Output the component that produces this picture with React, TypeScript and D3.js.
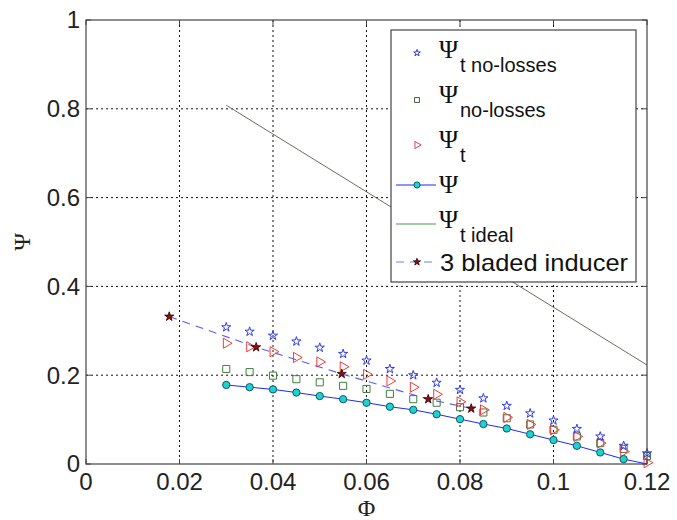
import React from "react";
import * as d3 from "d3";

const phi = [0.03, 0.035, 0.04, 0.045, 0.05, 0.055, 0.06, 0.065, 0.07, 0.075, 0.08, 0.085, 0.09, 0.095, 0.1, 0.105, 0.11, 0.115, 0.12];
const psiTNoLosses = [0.308, 0.298, 0.289, 0.276, 0.262, 0.248, 0.233, 0.214, 0.2, 0.183, 0.167, 0.148, 0.131, 0.114, 0.098, 0.079, 0.062, 0.041, 0.024];
const psiNoLosses = [0.214, 0.207, 0.199, 0.191, 0.184, 0.176, 0.169, 0.158, 0.146, 0.138, 0.128, 0.116, 0.103, 0.089, 0.077, 0.062, 0.047, 0.034, 0.018];
const psiT = [0.272, 0.264, 0.253, 0.24, 0.23, 0.219, 0.202, 0.187, 0.173, 0.157, 0.14, 0.122, 0.105, 0.089, 0.077, 0.062, 0.047, 0.028, 0.003];
const psiPhi = [0.03, 0.035, 0.04, 0.045, 0.05, 0.055, 0.06, 0.065, 0.07, 0.075, 0.08, 0.085, 0.09, 0.095, 0.1, 0.105, 0.11, 0.115];
const psi = [0.178, 0.173, 0.168, 0.161, 0.153, 0.146, 0.138, 0.129, 0.122, 0.112, 0.101, 0.09, 0.08, 0.067, 0.054, 0.041, 0.026, 0.011];
const psiLineEnd = [0.12, 0.0];
const idealPhi = [0.03, 0.12];
const idealPsi = [0.808, 0.223];
const bladedPhi = [0.0178, 0.0364, 0.0547, 0.0732, 0.0824];
const bladedPsi = [0.332, 0.263, 0.203, 0.146, 0.125];

const xTicks = [0, 0.02, 0.04, 0.06, 0.08, 0.1, 0.12];
const xTickLabels = ["0", "0.02", "0.04", "0.06", "0.08", "0.1", "0.12"];
const yTicks = [0, 0.2, 0.4, 0.6, 0.8, 1];
const yTickLabels = ["0", "0.2", "0.4", "0.6", "0.8", "1"];

const L = 86, R = 647, T = 20, B = 464;
const SANS = "'Liberation Sans', Arial, sans-serif";
const SERIF = "'Liberation Serif', 'Times New Roman', serif";

export default function App() {
  const x = d3.scaleLinear().domain([0, 0.12]).range([L, R]);
  const y = d3.scaleLinear().domain([0, 1]).range([B, T]);
  const line = d3.line<[number, number]>().x(d => x(d[0])).y(d => y(d[1]));

  const star = d3.symbol().type(d3.symbolStar).size(26)()!;
  const bigStar = d3.symbol().type(d3.symbolStar).size(26)()!;
  const square = d3.symbol().type(d3.symbolSquare).size(50)()!;
  const tri = d3.symbol().type(d3.symbolTriangle).size(44)()!;
  const circ = d3.symbol().type(d3.symbolCircle).size(42)()!;

  const psiPts: [number, number][] = psiPhi.map((p, i) => [p, psi[i]]);
  psiPts.push([psiLineEnd[0], psiLineEnd[1]]);
  const idealPts: [number, number][] = idealPhi.map((p, i) => [p, idealPsi[i]]);
  const bladedPts: [number, number][] = bladedPhi.map((p, i) => [p, bladedPsi[i]]);

  const grid = "2,3";
  const lx = 417;

  return (
    <svg width={677} height={520} style={{ position: "absolute", left: 0, top: 0, background: "#fff" }}>
      <rect x={0} y={0} width={677} height={520} fill="#fff" />
      {xTicks.slice(1, -1).map(t => (
        <line key={"gx" + t} x1={x(t)} x2={x(t)} y1={T} y2={B} stroke="#111" strokeWidth={1} strokeDasharray={grid} />
      ))}
      {yTicks.slice(1, -1).map(t => (
        <line key={"gy" + t} x1={L} x2={R} y1={y(t)} y2={y(t)} stroke="#111" strokeWidth={1} strokeDasharray={grid} />
      ))}
      {xTicks.map(t => (
        <g key={"tx" + t}>
          <line x1={x(t)} x2={x(t)} y1={B} y2={B - 5} stroke="#444" />
          <line x1={x(t)} x2={x(t)} y1={T} y2={T + 5} stroke="#444" />
        </g>
      ))}
      {yTicks.map(t => (
        <g key={"ty" + t}>
          <line x1={L} x2={L + 5} y1={y(t)} y2={y(t)} stroke="#444" />
          <line x1={R} x2={R - 5} y1={y(t)} y2={y(t)} stroke="#444" />
        </g>
      ))}
      <path d={line(idealPts)!} fill="none" stroke="#6a6d60" strokeWidth={1} />
      <path d={line(psiPts)!} fill="none" stroke="#1a2cf0" strokeWidth={1} />
      <path d={line(bladedPts)!} fill="none" stroke="#5a5cf5" strokeWidth={1.1} strokeDasharray="8,6" />
      {phi.map((p, i) => (
        <path key={"sq" + i} d={square} transform={`translate(${x(p)},${y(psiNoLosses[i])})`} fill="none" stroke="#3f7f3f" strokeWidth={1} />
      ))}
      {phi.map((p, i) => (
        <path key={"tr" + i} d={tri} transform={`translate(${x(p)},${y(psiT[i])}) rotate(90)`} fill="none" stroke="#f23a3a" strokeWidth={1} />
      ))}
      {phi.map((p, i) => (
        <path key={"st" + i} d={star} transform={`translate(${x(p)},${y(psiTNoLosses[i])})`} fill="none" stroke="#2f3af2" strokeWidth={1} />
      ))}
      {psiPhi.map((p, i) => (
        <path key={"ci" + i} d={circ} transform={`translate(${x(p)},${y(psi[i])})`} fill="#1fd2cf" stroke="#0b5a6a" strokeWidth={1} />
      ))}
      {bladedPhi.map((p, i) => (
        <path key={"bl" + i} d={bigStar} transform={`translate(${x(p)},${y(bladedPsi[i])})`} fill="#9a0a0a" stroke="#200000" strokeWidth={0.8} />
      ))}
      <rect x={L} y={T} width={R - L} height={B - T} fill="none" stroke="#444" strokeWidth={1.2} />
      {xTicks.map((t, i) => (
        <text key={"xl" + t} x={x(t)} y={490} textAnchor="middle" fontFamily={SANS} fontSize={24} fill="#222">{xTickLabels[i]}</text>
      ))}
      {yTicks.map((t, i) => (
        <text key={"yl" + t} x={80} y={y(t)} dy="0.35em" textAnchor="end" fontFamily={SANS} fontSize={24} fill="#222">{yTickLabels[i]}</text>
      ))}
      <text x={(L + R) / 2} y={516} textAnchor="middle" fontFamily={SERIF} fontSize={24} fill="#222">Φ</text>
      <text transform={`translate(30,${(T + B) / 2}) rotate(-90)`} textAnchor="middle" fontFamily={SERIF} fontSize={24} fill="#222">Ψ</text>
      <rect x={391} y={30} width={245} height={252} fill="#fff" stroke="#444" strokeWidth={1.2} />
      <path d={d3.symbol().type(d3.symbolStar).size(14)()!} transform={`translate(${lx},53)`} fill="none" stroke="#2f3af2" strokeWidth={1} />
      <path d={d3.symbol().type(d3.symbolSquare).size(24)()!} transform={`translate(${lx},100)`} fill="none" stroke="#3f5f3f" strokeWidth={1} />
      <path d={d3.symbol().type(d3.symbolTriangle).size(22)()!} transform={`translate(${lx},145) rotate(90)`} fill="none" stroke="#e83a60" strokeWidth={1} />
      <line x1={396} x2={436} y1={185} y2={185} stroke="#1a2cf0" strokeWidth={1} />
      <path d={d3.symbol().type(d3.symbolCircle).size(30)()!} transform={`translate(${lx},185)`} fill="#1fd2cf" stroke="#0b5a6a" strokeWidth={1} />
      <line x1={396} x2={436} y1={224} y2={224} stroke="#3c9a3c" strokeWidth={1} />
      <line x1={396} x2={436} y1={262} y2={262} stroke="#7a7cf5" strokeWidth={1.1} strokeDasharray="8,6" />
      <path d={d3.symbol().type(d3.symbolStar).size(16)()!} transform={`translate(${lx},262)`} fill="#9a0a0a" stroke="#200000" strokeWidth={0.8} />
      {[
        { b: 58, sub: "t no-losses" },
        { b: 103, sub: "no-losses" },
        { b: 148, sub: "t" },
        { b: 193, sub: "" },
        { b: 228, sub: "t ideal" },
      ].map((it, i) => (
        <g key={"lg" + i}>
          <text x={439} y={it.b} fontFamily={SERIF} fontSize={26} fill="#111">Ψ</text>
          {it.sub && (
            <text x={460} y={it.b + 14} fontFamily={SANS} fontSize={20} fill="#111">{it.sub}</text>
          )}
        </g>
      ))}
      <text x={440} y={271} fontFamily={SANS} fontSize={24} fill="#111" textLength={188} lengthAdjust="spacingAndGlyphs">3 bladed inducer</text>
    </svg>
  );
}
